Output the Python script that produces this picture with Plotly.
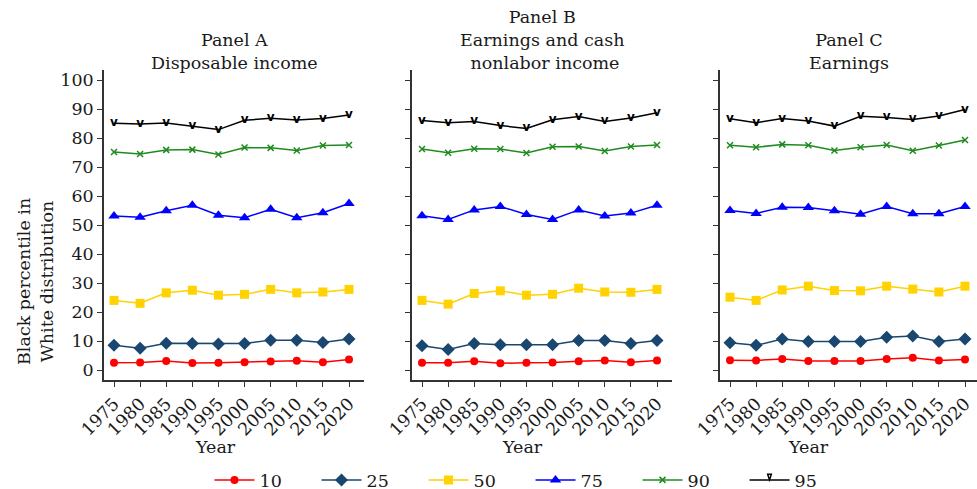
import plotly.graph_objects as go

years = [1975, 1980, 1985, 1990, 1995, 2000, 2005, 2010, 2015, 2020]
percentiles = ["10", "25", "50", "75", "90", "95"]
panel_titles = ["Panel A<br>Disposable income",
                "Panel B<br>Earnings and cash<br> nonlabor income",
                "Panel C<br>Earnings"]

# Panel A: Disposable income
a_p10 = [2.5, 2.6, 3.1, 2.4, 2.5, 2.7, 2.9, 3.2, 2.7, 3.6]
a_p25 = [8.5, 7.5, 9.2, 9.1, 9.0, 9.1, 10.3, 10.3, 9.5, 10.7]
a_p50 = [24.0, 23.0, 26.6, 27.5, 25.8, 26.1, 27.8, 26.6, 26.9, 27.8]
a_p75 = [53.1, 52.7, 54.9, 56.8, 53.4, 52.5, 55.4, 52.5, 54.2, 57.4]
a_p90 = [75.2, 74.5, 75.9, 76.0, 74.3, 76.7, 76.6, 75.7, 77.4, 77.6]
a_p95 = [85.1, 84.8, 85.2, 84.1, 82.9, 86.1, 86.8, 86.2, 86.7, 87.9]

# Panel B: Earnings and cash nonlabor income
b_p10 = [2.5, 2.5, 3.0, 2.3, 2.5, 2.6, 3.0, 3.3, 2.7, 3.3]
b_p25 = [8.4, 7.1, 9.1, 8.7, 8.7, 8.7, 10.2, 10.2, 9.1, 10.2]
b_p50 = [24.0, 22.7, 26.4, 27.3, 25.8, 26.1, 28.2, 26.9, 26.8, 27.8]
b_p75 = [53.2, 51.9, 55.2, 56.4, 53.6, 51.9, 55.2, 53.1, 54.1, 56.8]
b_p90 = [76.2, 74.9, 76.3, 76.2, 74.8, 77.0, 77.1, 75.5, 77.1, 77.6]
b_p95 = [86.0, 85.3, 85.7, 84.3, 83.3, 86.3, 87.4, 85.7, 86.9, 88.7]

# Panel C: Earnings
c_p10 = [3.4, 3.3, 3.8, 3.1, 3.1, 3.1, 3.8, 4.2, 3.3, 3.6]
c_p25 = [9.4, 8.5, 10.7, 9.8, 9.8, 9.8, 11.3, 11.7, 9.8, 10.7]
c_p50 = [25.1, 24.0, 27.6, 28.9, 27.4, 27.3, 28.9, 27.9, 26.9, 28.9]
c_p75 = [55.0, 54.0, 56.1, 56.0, 54.9, 53.7, 56.4, 53.9, 53.9, 56.4]
c_p90 = [77.5, 76.8, 77.8, 77.5, 75.7, 76.8, 77.6, 75.6, 77.4, 79.3]
c_p95 = [86.6, 85.3, 86.7, 85.9, 84.1, 87.5, 87.1, 86.4, 87.6, 89.8]

panels = [
    [a_p10, a_p25, a_p50, a_p75, a_p90, a_p95],
    [b_p10, b_p25, b_p50, b_p75, b_p90, b_p95],
    [c_p10, c_p25, c_p50, c_p75, c_p90, c_p95],
]

colors = ["#ff0000", "#1a476f", "#ffd200", "#0000ff", "#1f8b1f", "#000000"]
symbols = ["circle", "diamond", "square", "triangle-up", "x-thin", None]
sizes = [8, 10, 9, 10, 6, 0]

W, H = 977, 489
FONT = "DejaVu Serif"
FS = 17.5

fig = go.Figure()

xdom_px = [(104, 364), (412, 672), (720, 977)]
ydom = [(H - 380) / H, (H - 70) / H]
yr_per_px = 45 / 235.0

for p, series in enumerate(panels):
    xa = "x" if p == 0 else f"x{p+1}"
    ya = "y" if p == 0 else f"y{p+1}"
    for i, vals in enumerate(series):
        if symbols[i] is None:
            fig.add_trace(go.Scatter(
                x=years, y=vals, xaxis=xa, yaxis=ya, mode="lines+text",
                text=["v"] * len(years), textposition="middle center",
                textfont=dict(family="DejaVu Sans", size=12, color=colors[i], weight="bold"),
                line=dict(color=colors[i], width=1.5),
                name=percentiles[i], legendgroup=percentiles[i], showlegend=False))
            if p == 0:
                # legend entry for the "v" series
                fig.add_trace(go.Scatter(
                    x=[None], y=[None], xaxis=xa, yaxis=ya, mode="lines+markers",
                    marker=dict(symbol="arrow-open", angle=180, size=6, color=colors[i],
                                line=dict(width=1.5, color=colors[i])),
                    line=dict(color=colors[i], width=1.5),
                    name=percentiles[i], legendgroup=percentiles[i], showlegend=True))
        else:
            mline = dict(width=1.5, color=colors[i]) if symbols[i] == "x-thin" else dict(width=0)
            fig.add_trace(go.Scatter(
                x=years, y=vals, xaxis=xa, yaxis=ya, mode="lines+markers",
                marker=dict(symbol=symbols[i], size=sizes[i], color=colors[i], line=mline),
                line=dict(color=colors[i], width=1.5),
                name=percentiles[i], legendgroup=percentiles[i], showlegend=(p == 0)))

layout = dict(
    width=W, height=H,
    margin=dict(l=0, r=0, t=0, b=0, autoexpand=False),
    paper_bgcolor="white", plot_bgcolor="white",
    font=dict(family=FONT, size=FS, color="#1a1a1a"),
    showlegend=True,
    legend=dict(orientation="h", x=0.543, xanchor="center", y=(H - 462) / H, yanchor="top",
                font=dict(family=FONT, size=FS), entrywidth=52, entrywidthmode="pixels",
                itemwidth=40, bgcolor="rgba(0,0,0,0)"),
)

annotations = []
for p in range(3):
    x0, x1 = xdom_px[p]
    start = 1975 - 10 * yr_per_px
    end = start + (x1 - x0) * yr_per_px
    xkey = "xaxis" if p == 0 else f"xaxis{p+1}"
    ykey = "yaxis" if p == 0 else f"yaxis{p+1}"
    layout[xkey] = dict(
        domain=[x0 / W, x1 / W], range=[start, end], anchor="y" if p == 0 else f"y{p+1}",
        tickmode="array", tickvals=years, ticktext=[str(y) for y in years],
        tickangle=-45, ticks="outside", ticklen=5, tickwidth=1.3, tickcolor="#333",
        showline=True, linecolor="#333", linewidth=1.5, showgrid=False, zeroline=False,
        automargin=False,
        tickfont=dict(family=FONT, size=FS, color="#1a1a1a"))
    layout[ykey] = dict(
        domain=ydom, range=[-3.45, 103.45], anchor="x" if p == 0 else f"x{p+1}",
        tickmode="array", tickvals=list(range(0, 101, 10)),
        showticklabels=(p == 0), ticks="outside", ticklen=5, tickwidth=1.3, tickcolor="#333",
        showline=True, linecolor="#333", linewidth=1.5, showgrid=False, zeroline=False,
        automargin=False,
        tickfont=dict(family=FONT, size=FS, color="#1a1a1a"))
    annotations.append(dict(
        text=panel_titles[p], xref="paper", yref="paper",
        x=(x0 + x1) / 2 / W, y=(H - 75) / H, xanchor="center", yanchor="bottom",
        showarrow=False, font=dict(family=FONT, size=FS, color="#1a1a1a")))

year_x = [215, 522, 808]
for p in range(3):
    annotations.append(dict(
        text="Year", xref="paper", yref="paper", x=year_x[p] / W, y=(H - 447) / H,
        xanchor="center", yanchor="middle", showarrow=False,
        font=dict(family=FONT, size=FS, color="#1a1a1a")))

annotations.append(dict(
    text="Black percentile in<br>White distribution", xref="paper", yref="paper",
    x=35 / W, y=(H - 282) / H, xanchor="center", yanchor="middle", textangle=-90,
    showarrow=False, font=dict(family=FONT, size=FS, color="#1a1a1a")))

layout["annotations"] = annotations
fig.update_layout(**layout)
fig.write_html("out.html", config={"displayModeBar": False},
               post_script="document.body.style.margin='0px';document.body.style.overflow='hidden';")
